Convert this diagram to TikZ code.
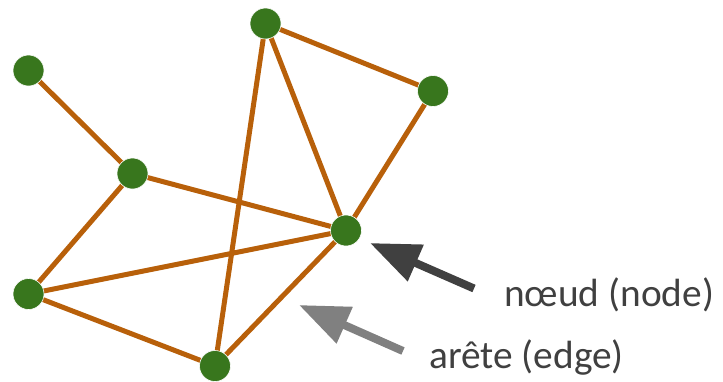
\documentclass[tikz,border=0pt]{standalone}
\usepackage{fontspec}
\setmainfont{Carlito}
\usetikzlibrary{arrows.meta}
\definecolor{edgecol}{HTML}{B8600A}
\definecolor{nodecol}{HTML}{38761D}
\definecolor{darkarr}{HTML}{404040}
\definecolor{grayarr}{HTML}{808080}
\definecolor{txt}{HTML}{404040}
\begin{document}
\begin{tikzpicture}[x=1bp,y=-1bp,
  vert/.style={circle,fill=nodecol,draw=white,line width=0.6bp,minimum size=31bp,inner sep=0pt},
  edge/.style={draw=edgecol,line width=5bp},
  lbl/.style={font=\fontsize{39.5}{44}\selectfont,text=txt,anchor=base west,inner sep=0pt},
  pointer/.style={line width=8bp,-{Triangle[length=50bp,width=38bp]}}]
\useasboundingbox (0,0) rectangle (723,381);
\coordinate (a) at (28.5,70.5);
\coordinate (b) at (265.5,23.5);
\coordinate (c) at (433,91);
\coordinate (d) at (132.5,173.5);
\coordinate (e) at (346,230.5);
\coordinate (f) at (28.5,294);
\coordinate (g) at (215,366);
\path[edge] (a) -- (d) (d) -- (e) (d) -- (f) (f) -- (e) (f) -- (g) (g) -- (e) (g) -- (b) (b) -- (e) (b) -- (c) (c) -- (e);
\foreach \n in {a,b,c,d,e,f,g} \node[vert] (N\n) at (\n) {};
\coordinate (t1) at (474,288.5);
\coordinate (h1) at (370,243);
\coordinate (t2) at (403,351);
\coordinate (h2) at (299,305);
\draw[pointer,darkarr] (t1) -- (h1);
\draw[pointer,grayarr] (t2) -- (h2);
\node[lbl] (l1) at (504,306) {nœud (node)};
\node[lbl] (l2) at (429,368) {arête (edge)};
\end{tikzpicture}
\end{document}
